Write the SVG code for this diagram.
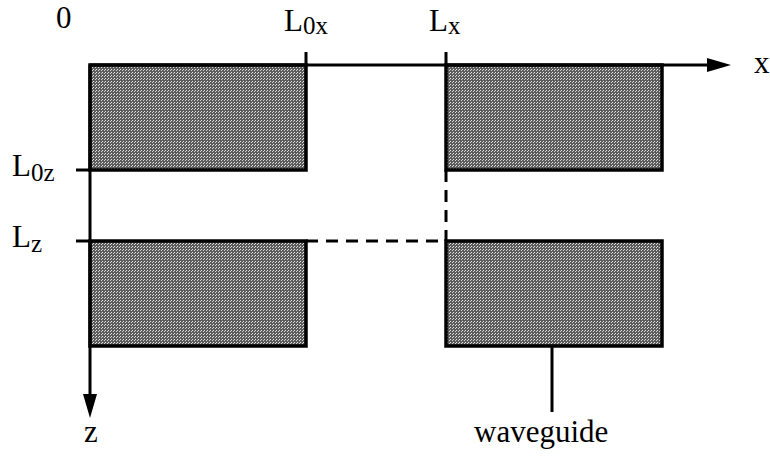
<svg xmlns="http://www.w3.org/2000/svg" width="770" height="462" viewBox="0 0 770 462">
<style>
.wg{stroke:#000;stroke-width:3.5}
.ax{stroke:#000;stroke-width:3;fill:none}
.dash{stroke:#000;stroke-width:3;stroke-dasharray:12 8;fill:none}
.lbl{font-family:"Liberation Serif","Times New Roman",serif;font-size:31px;fill:#000}
.sub{font-size:25px}
</style>
<defs>
<pattern id="ht" width="3" height="3" patternUnits="userSpaceOnUse">
<rect width="3" height="3" fill="#5c5c5c"/>
<rect x="0" y="0" width="1" height="1" fill="#e8e8e8"/>
<rect x="2" y="1" width="1" height="1" fill="#d4d4d4"/>
</pattern>
<marker id="arr" viewBox="0 0 10 10" refX="10" refY="5" markerWidth="9" markerHeight="9" markerUnits="userSpaceOnUse" orient="auto">
<path d="M0,1.5 L10,5 L0,8.5 Z" fill="#000"/>
</marker>
</defs>
<g id="wg1"><rect class="wg" x="90" y="65" width="216" height="105" fill="url(#ht)"/></g>
<g id="wg2"><rect class="wg" x="446" y="65" width="216" height="105" fill="url(#ht)"/></g>
<g id="wg3"><rect class="wg" x="90" y="241" width="216" height="105" fill="url(#ht)"/></g>
<g id="wg4"><rect class="wg" x="446" y="241" width="216" height="105" fill="url(#ht)"/></g>
<g id="connectors">
<path d="M90,65 H708" class="ax"/>
<path d="M707,58 L731,65 L707,72 Z" fill="#000"/>
<path d="M90,65 V395" class="ax"/>
<path d="M83,394 L90,418 L97,394 Z" fill="#000"/>
<path d="M306,52 V65 M446,52 V65 M76,170 H90 M76,241 H90" class="ax"/>
<path d="M306,241 H446 M446,170 V241" class="dash"/>
<path d="M552,346 V412" class="ax"/>
</g>
<g id="labels">
<text class="lbl" x="56" y="28">0</text>
<text class="lbl" x="284" y="31">L<tspan class="sub" dy="3">0x</tspan></text>
<text class="lbl" x="429" y="31">L<tspan class="sub" dy="3">x</tspan></text>
<text class="lbl" x="754" y="73">x</text>
<text class="lbl" x="12" y="176">L<tspan class="sub" dy="5">0z</tspan></text>
<text class="lbl" x="12" y="247">L<tspan class="sub" dy="5">z</tspan></text>
<text class="lbl" x="84" y="442">z</text>
<text class="lbl" x="474" y="442">waveguide</text>
</g>
</svg>
